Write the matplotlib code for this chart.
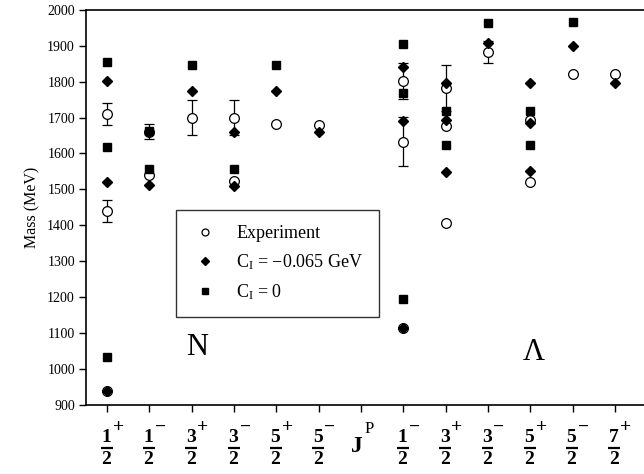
import matplotlib
matplotlib.use("Agg")
import matplotlib.pyplot as plt
from matplotlib.lines import Line2D
from matplotlib.transforms import blended_transform_factory, offset_copy

plt.rcParams['font.family'] = ['Liberation Serif', 'DejaVu Serif']
plt.rcParams['mathtext.fontset'] = 'custom'
plt.rcParams['mathtext.rm'] = 'Liberation Serif'
plt.rcParams['mathtext.it'] = 'Liberation Serif:italic'
plt.rcParams['mathtext.bf'] = 'Liberation Serif:bold'

# categories (J^P); index 6 is the separator label "J^P"
num = ['1', '1', '3', '3', '5', '5', None, '1', '3', '3', '5', '5', '7']
sup = ['+', '\u2212', '+', '\u2212', '+', '\u2212', None, '\u2212', '+', '\u2212', '+', '\u2212', '+']

# Experiment
exp_x = [0, 0, 0, 1, 1, 2, 3, 3, 4, 5, 7, 7, 7, 8, 8, 8, 9, 10, 10, 11, 12]
exp_m = [939, 1440, 1710, 1540, 1661, 1700, 1522, 1700, 1683, 1679,
         1115, 1633, 1802, 1407, 1675, 1782, 1883, 1520, 1693, 1821, 1821]
exp_e = [0, 30, 30, 0, 20, 50, 0, 50, 0, 0,
         0, 68, 50, 0, 0, 63, 30, 0, 0, 0, 0]

# C_I = -0.065 GeV
dia_x = [0, 0, 0, 1, 1, 2, 3, 3, 4, 5, 7, 7, 7, 8, 8, 8, 9, 10, 10, 10, 11, 12]
dia_m = [939, 1520, 1802, 1512, 1660, 1775, 1510, 1659, 1775, 1661,
         1115, 1690, 1841, 1548, 1692, 1797, 1906, 1550, 1686, 1797, 1899, 1796]

# C_I = 0
sq_x = [0, 0, 0, 1, 1, 2, 3, 4, 7, 7, 7, 8, 8, 9, 10, 10, 11]
sq_m = [1034, 1617, 1855, 1558, 1663, 1846, 1557, 1846,
        1194, 1767, 1905, 1623, 1718, 1964, 1623, 1718, 1965]

labels = ['Experiment', 'C$_\\mathregular{I}$ = \u22120.065 GeV', 'C$_\\mathregular{I}$ = 0']

fig = plt.figure(figsize=(6.44, 4.74), dpi=100)
ax = fig.add_axes([86 / 644, 69 / 474, 558 / 644, 395.3 / 474])

ax.plot(sq_x, sq_m, 's', color='black', markersize=5.3, zorder=3, linestyle='none')
ax.errorbar(exp_x, exp_m, yerr=exp_e, fmt='o', mfc='white', mec='black',
            mew=0.9, markersize=7, ecolor='black', elinewidth=0.9,
            capsize=3.3, capthick=0.9, zorder=2)
ax.plot(dia_x, dia_m, 'D', color='black', markersize=4.6, zorder=4, linestyle='none')

ax.set_ylim(900, 2000)
ax.set_xlim(-0.5, 12.69)
ax.set_yticks(range(900, 2001, 100))
ax.set_xticks(range(len(num)))
ax.set_xticklabels([])
ax.tick_params(axis='y', direction='out', length=5, width=1, labelsize=10, pad=3)
ax.tick_params(axis='x', direction='out', length=5, width=1)
for s in ['left', 'bottom', 'top']:
    ax.spines[s].set_linewidth(1.2)
ax.spines['right'].set_visible(False)
ax.set_ylabel('Mass (MeV)', fontsize=11.5, labelpad=5)

# fraction tick labels
bt = blended_transform_factory(ax.transData, ax.transAxes)
for i, (n, sp) in enumerate(zip(num, sup)):
    if n is None:
        ax.annotate('J', xy=(i, 0), xycoords=('data', 'axes fraction'),
                    xytext=(-4, -42), textcoords='offset pixels',
                    ha='center', va='center', fontsize=17, fontweight='bold')
        ax.annotate('P', xy=(i, 0), xycoords=('data', 'axes fraction'),
                    xytext=(8, -24), textcoords='offset pixels',
                    ha='center', va='center', fontsize=12)
        continue
    ax.annotate(n, xy=(i, 0), xycoords=('data', 'axes fraction'),
                xytext=(-1, -32), textcoords='offset pixels',
                ha='center', va='center', fontsize=14, fontweight='bold')
    ax.annotate('2', xy=(i, 0), xycoords=('data', 'axes fraction'),
                xytext=(-1, -54), textcoords='offset pixels',
                ha='center', va='center', fontsize=14, fontweight='bold')
    ax.annotate(sp, xy=(i, 0), xycoords=('data', 'axes fraction'),
                xytext=(11, -22), textcoords='offset pixels',
                ha='center', va='center', fontsize=14, fontweight='bold')
    tr = offset_copy(bt, fig=fig, x=0, y=-43, units='dots')
    ax.plot([i - 0.15, i + 0.13], [0, 0], transform=tr, color='black',
            lw=1.6, clip_on=False, solid_capstyle='butt')

ax.text(2.13, 1060, 'N', fontsize=22, ha='center', va='center')
ax.text(10.08, 1046, '\u039b', fontsize=22, ha='center', va='center')

handles = [
    Line2D([], [], marker='o', linestyle='none', mfc='white', mec='black', mew=0.9, markersize=5),
    Line2D([], [], marker='D', linestyle='none', color='black', markersize=3.6),
    Line2D([], [], marker='s', linestyle='none', color='black', markersize=4.2),
]
leg = ax.legend(handles, labels,
                loc='upper left', bbox_to_anchor=(0.161, 0.493),
                borderaxespad=0, fontsize=13, frameon=True, fancybox=False,
                edgecolor='black', borderpad=0.85,
                handlelength=1.5, handletextpad=1.0, labelspacing=0.55)
leg.get_frame().set_linewidth(1.0)

fig.savefig('out.png', dpi=100)
